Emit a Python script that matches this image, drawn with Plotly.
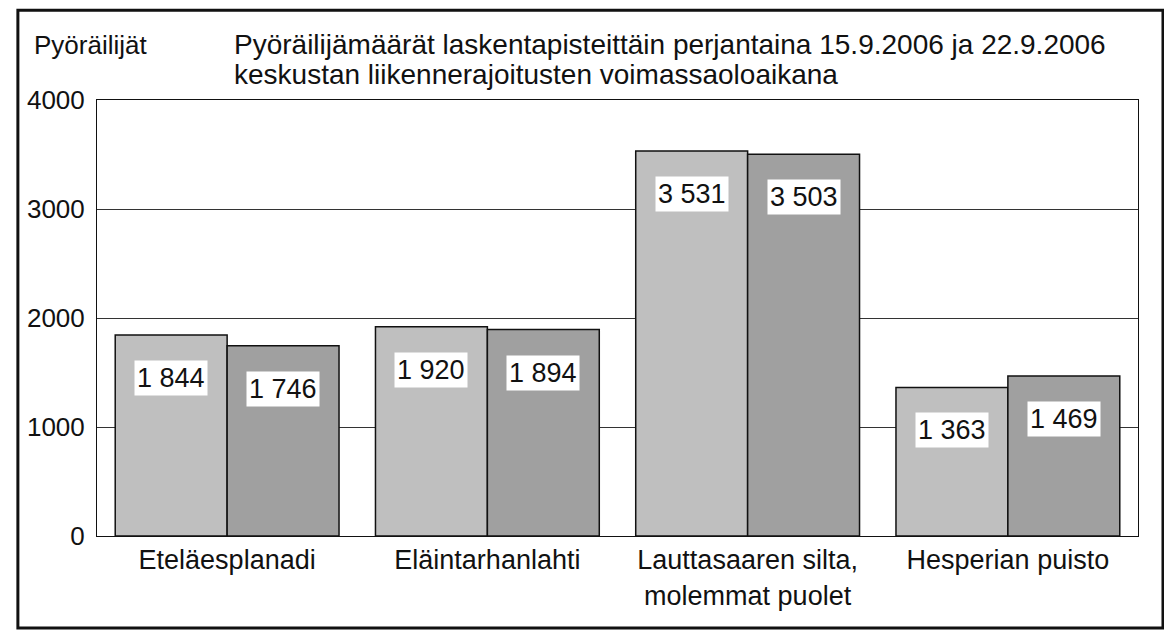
import plotly.graph_objects as go

categories = ["Eteläesplanadi", "Eläintarhanlahti", "Lauttasaaren silta,<br>molemmat puolet", "Hesperian puisto"]
values_15_9 = [1844, 1920, 3531, 1363]
values_22_9 = [1746, 1894, 3503, 1469]
y_ticks = [0, 1000, 2000, 3000, 4000]
title_lines = ["Pyöräilijämäärät laskentapisteittäin perjantaina 15.9.2006 ja 22.9.2006",
               "keskustan liikennerajoitusten voimassaoloaikana"]
y_title = "Pyöräilijät"

def fmt(v):
    return f"{v:,}".replace(",", " ")

FONT = "Liberation Sans, Arial, sans-serif"
FS = 27
INK = "#111111"
bargap = 0.14
group_w = 1 - bargap
off = group_w / 4

fig = go.Figure()
fig.add_trace(go.Bar(x=list(range(len(categories))), y=values_15_9, name="15.9.2006",
                     marker=dict(color="#bfbfbf", line=dict(color=INK, width=1.5))))
fig.add_trace(go.Bar(x=list(range(len(categories))), y=values_22_9, name="22.9.2006",
                     marker=dict(color="#a0a0a0", line=dict(color=INK, width=1.5))))

for i, (a, b) in enumerate(zip(values_15_9, values_22_9)):
    for xv, v in ((i - off, a), (i + off, b)):
        fig.add_annotation(x=xv, y=v, xref="x", yref="y", text=fmt(v), showarrow=False,
                           yanchor="top", yshift=-25, bgcolor="white", borderpad=2,
                           font=dict(family=FONT, size=FS, color=INK))

fig.add_annotation(x=-0.0624, y=1.126, xref="paper", yref="paper", text=y_title,
                   showarrow=False, xanchor="left", yanchor="middle",
                   font=dict(family=FONT, size=26, color=INK))
for line, yy in zip(title_lines, (1.128, 1.058)):
    fig.add_annotation(x=0.1297, y=yy, xref="paper", yref="paper", text=line,
                       showarrow=False, xanchor="left", yanchor="middle", align="left",
                       font=dict(family=FONT, size=28, color=INK))

# outer frame
fig.add_shape(type="rect", xref="paper", yref="paper", x0=-0.076, x1=1.024, y0=-0.211, y1=1.206,
              line=dict(color=INK, width=3), fillcolor="rgba(0,0,0,0)")

fig.update_layout(
    width=1164, height=632,
    margin=dict(l=89, r=34, t=92, b=104),
    paper_bgcolor="white", plot_bgcolor="white",
    barmode="group", bargap=bargap, bargroupgap=0,
    showlegend=False,
    font=dict(family=FONT, size=FS, color=INK),
)
fig.update_xaxes(tickvals=list(range(len(categories))), ticktext=categories,
                 range=[-0.5, len(categories) - 0.5], showgrid=False,
                 showline=True, linecolor=INK, linewidth=1, mirror=True,
                 ticks="", tickfont=dict(family=FONT, size=27, color=INK))
fig.update_yaxes(range=[0, 4000], tickvals=y_ticks, showgrid=True, gridcolor="#333333", gridwidth=1,
                 showline=True, linecolor=INK, linewidth=1, mirror=True,
                 ticks="", ticklabelstandoff=6, zeroline=False,
                 tickfont=dict(family=FONT, size=26, color=INK))

fig.write_html("out.html")
